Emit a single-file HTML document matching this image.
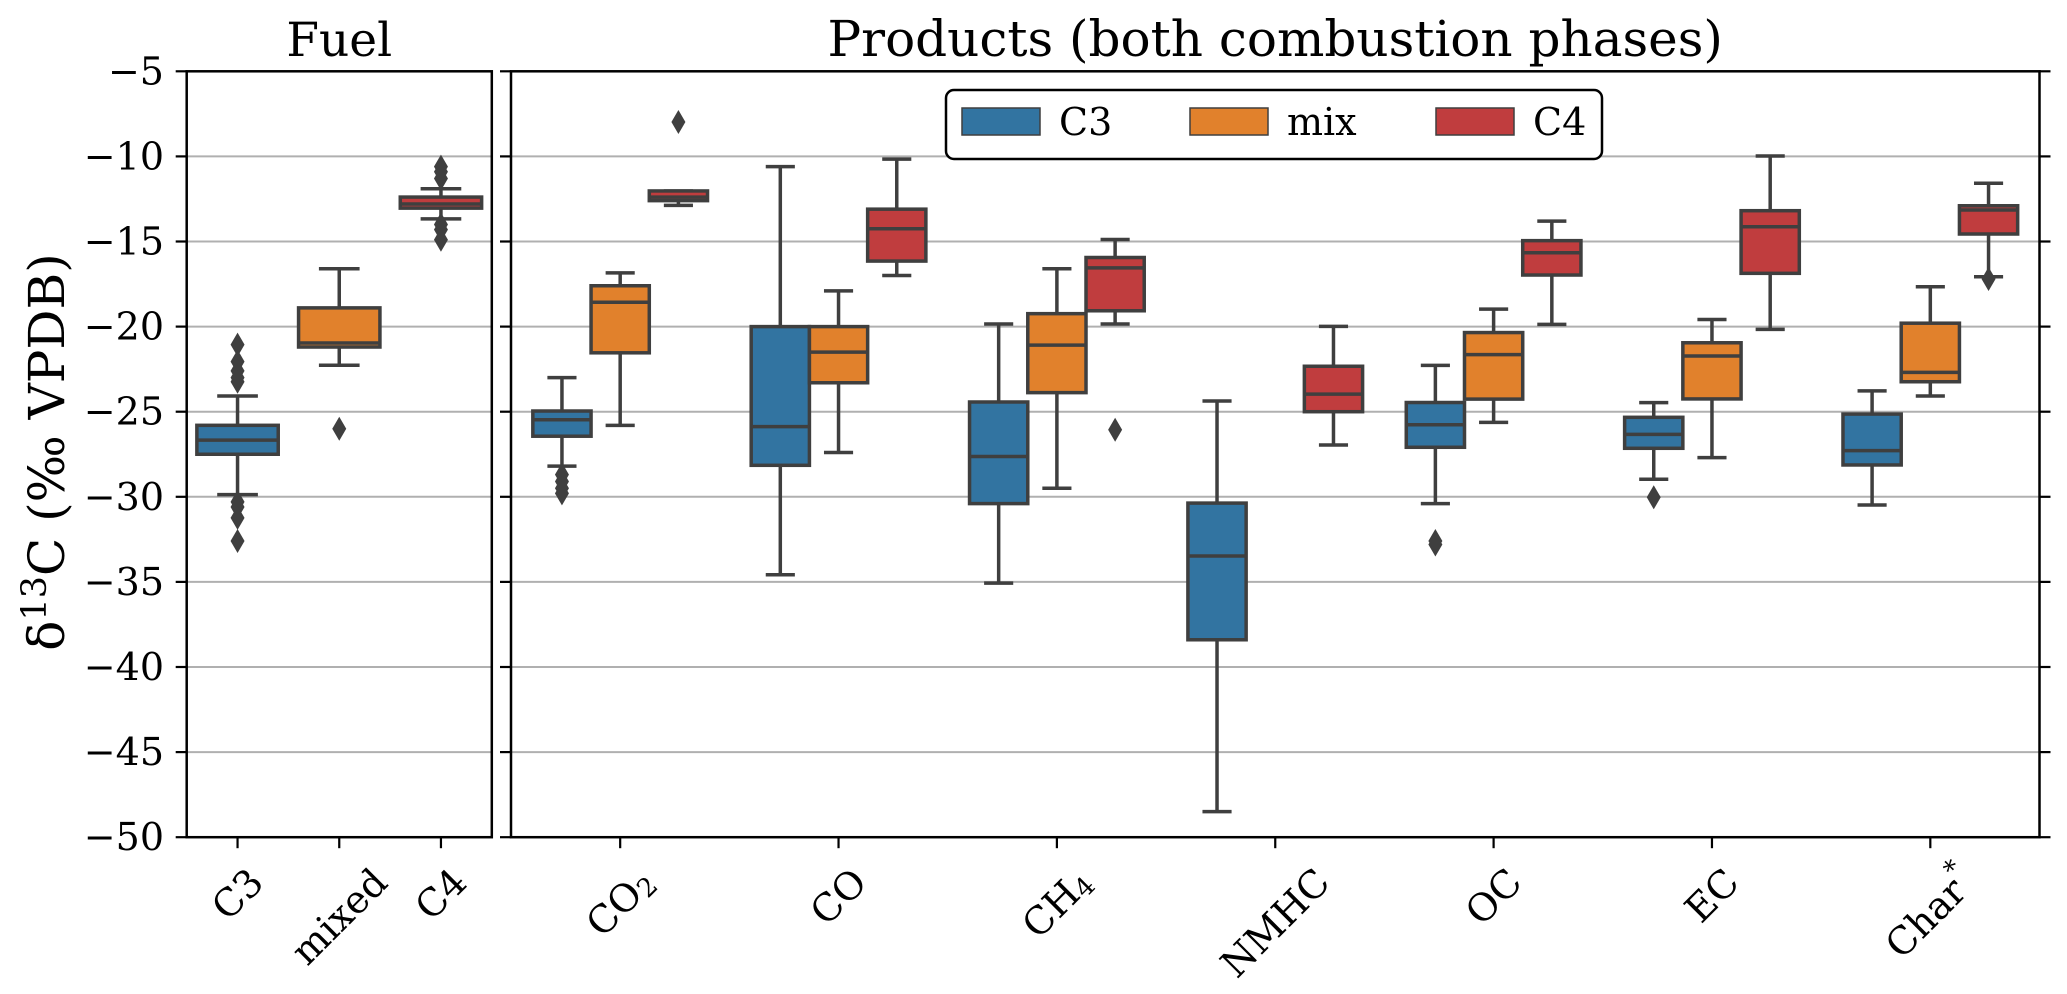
<!DOCTYPE html>
<html><head><meta charset="utf-8"><style>
html,body{margin:0;padding:0;background:#fff;}
svg{display:block;font-family:"DejaVu Serif","Liberation Serif",serif;}
</style></head><body>
<svg id="chart" width="2067" height="994" viewBox="0 0 2067 994" xmlns="http://www.w3.org/2000/svg">
<g id="grid"></g>
<g id="boxes"></g>
<g id="axes"></g>
</svg>
<script>
// ---- data ----
const yTicks = [-5,-10,-15,-20,-25,-30,-35,-40,-45,-50];
const fuelCats = ["C3","mixed","C4"];
// [whiskerLow, q1, median, q3, whiskerHigh]
const fuelStats = [
  [-29.87,-27.5,-26.67,-25.8,-24.08],
  [-22.27,-21.2,-20.96,-18.9,-16.6],
  [-13.67,-13.04,-12.8,-12.39,-11.9]
];
const fuelOutliers = [
  [-21.06,-22.06,-22.6,-23.0,-23.24,-30.3,-30.6,-31.24,-32.6],
  [-26.0],
  [-10.6,-10.9,-11.3,-14.0,-14.3,-14.9]
];
const prodCats = ["CO2","CO","CH4","NMHC","OC","EC","Char"];
const hues = ["C3","mix","C4"];
const c3Stats = [
  [-28.2,-26.44,-25.47,-24.96,-23.0],
  [-34.58,-28.15,-25.88,-20.0,-10.6],
  [-35.07,-30.4,-27.63,-24.43,-19.85],
  [-48.5,-38.4,-33.48,-30.37,-24.37],
  [-30.4,-27.09,-25.77,-24.46,-22.28],
  [-28.97,-27.15,-26.33,-25.33,-24.47],
  [-30.48,-28.13,-27.29,-25.14,-23.78]
];
const mixStats = [
  [-25.8,-21.54,-18.57,-17.6,-16.84],
  [-27.4,-23.3,-21.5,-20.0,-17.9],
  [-29.5,-23.88,-21.09,-19.24,-16.6],
  null,
  [-25.63,-24.26,-21.65,-20.35,-18.97],
  [-27.7,-24.25,-21.73,-20.95,-19.58],
  [-24.08,-23.24,-22.69,-19.8,-17.66]
];
const c4Stats = [
  [-12.88,-12.6,-12.39,-12.03,-12.03],
  [-17.0,-16.15,-14.25,-13.1,-10.16],
  [-19.85,-19.07,-16.55,-15.94,-14.88],
  [-26.96,-25.0,-23.97,-22.33,-19.99],
  [-19.87,-16.97,-15.66,-14.95,-13.8],
  [-20.16,-16.87,-14.13,-13.19,-9.98],
  [-17.07,-14.56,-13.15,-12.9,-11.58]
];
const c3Outliers = [[-28.7,-29.1,-29.5,-29.8],[],[],[],[-32.6,-32.8],[-30.03],[]];
const mixOutliers = [[],[],[],[],[],[],[]];
const c4Outliers = [[-7.98],[],[-26.06],[],[],[],[-17.2]];
const colors = ["#3274a1","#e1812c","#c03d3e"];
// ---- layout ----
const NS="http://www.w3.org/2000/svg";
const yTop=71.3, yPer=17.02;
function Y(v){return yTop+(-5-v)*yPer;}
const L={x0:186.7,x1:491.8}, R={x0:511,x1:2039.5};
const yBot=Y(-50);
const fuelStep=(L.x1-L.x0)/fuelCats.length, prodStep=(R.x1-R.x0)/prodCats.length;
function fuelX(i){return L.x0+fuelStep*(i+0.5);}
function prodX(i){return R.x0+prodStep*(i+0.5);}
const LC="#3f3f3f";
function el(tag,attrs,parent){const e=document.createElementNS(NS,tag);for(const k in attrs)e.setAttribute(k,attrs[k]);parent.appendChild(e);return e;}
const grid=document.getElementById('grid'), boxes=document.getElementById('boxes'), axes=document.getElementById('axes');
yTicks.forEach(t=>{
  if(t===-5||t===-50) return;
  [L,R].forEach(p=>{
    const g=el('line',{x1:p.x0,x2:p.x1,y1:Y(t),y2:Y(t),stroke:'#b0b0b0','stroke-width':2},grid);
    
    
  });
});
function drawBox(cx,w,s,color,outs,name){
  const g=el('g',{},boxes);
  
  
  const cap=w*0.5;
  el('line',{x1:cx,x2:cx,y1:Y(s[0]),y2:Y(s[1]),stroke:LC,'stroke-width':3.5},g);
  el('line',{x1:cx,x2:cx,y1:Y(s[3]),y2:Y(s[4]),stroke:LC,'stroke-width':3.5},g);
  el('line',{x1:cx-cap/2,x2:cx+cap/2,y1:Y(s[0]),y2:Y(s[0]),stroke:LC,'stroke-width':3.5},g);
  el('line',{x1:cx-cap/2,x2:cx+cap/2,y1:Y(s[4]),y2:Y(s[4]),stroke:LC,'stroke-width':3.5},g);
  el('rect',{x:cx-w/2,y:Y(s[3]),width:w,height:Math.max(Y(s[1])-Y(s[3]),1),fill:color,stroke:LC,'stroke-width':3.5},g);
  el('line',{x1:cx-w/2,x2:cx+w/2,y1:Y(s[2]),y2:Y(s[2]),stroke:LC,'stroke-width':3.5},g);
  outs.forEach(o=>{
    const y=Y(o);
    const d=el('polygon',{points:`${cx},${y-12} ${cx+7},${y} ${cx},${y+12} ${cx-7},${y}`,fill:LC},g);
    
    
  });
}
fuelCats.forEach((c,i)=>drawBox(fuelX(i),fuelStep*0.8,fuelStats[i],colors[i],fuelOutliers[i],'fuel-box-'+c));
const hueStats=[c3Stats,mixStats,c4Stats], hueOuts=[c3Outliers,mixOutliers,c4Outliers];
const bw=prodStep*0.8/3;
prodCats.forEach((c,i)=>{
  hues.forEach((h,j)=>{
    const s=hueStats[j][i]; if(!s) return;
    drawBox(prodX(i)+(j-1)*bw,bw,s,colors[j],hueOuts[j][i],'box-'+c.toLowerCase()+'-'+h.toLowerCase());
  });
});
[L,R].forEach((p,k)=>{
  const f=el('rect',{x:p.x0,y:yTop,width:p.x1-p.x0,height:yBot-yTop,fill:'none',stroke:'#000','stroke-width':2.5},axes);
  
  
});
yTicks.forEach(t=>{
  el('line',{x1:L.x0-11,x2:L.x0,y1:Y(t),y2:Y(t),stroke:'#000','stroke-width':2.2},axes);
  el('line',{x1:R.x0-11,x2:R.x0,y1:Y(t),y2:Y(t),stroke:'#000','stroke-width':2.2},axes);
  el('line',{x1:R.x1,x2:R.x1+11,y1:Y(t),y2:Y(t),stroke:'#000','stroke-width':2.2},axes);
  const tx=el('text',{x:164,y:Y(t)+13,'text-anchor':'end','font-size':38,fill:'#000'},axes);
  tx.textContent=String(t).replace('-','\u2212');
  
  
});
function xLabel(x,parts,name){
  el('line',{x1:x,x2:x,y1:yBot,y2:yBot+11,stroke:'#000','stroke-width':2.2},axes);
  const t=el('text',{'font-size':38,'text-anchor':'middle','dominant-baseline':'central',fill:'#000'},axes);
  
  
  parts.forEach(p=>{const ts=el('tspan',{},t);ts.textContent=p[0];
    if(p[1]==='sub'){ts.setAttribute('font-size',26);ts.setAttribute('dy',9);}
    if(p[1]==='sup'){ts.setAttribute('font-size',26);ts.setAttribute('dy',-15);}});
  const w=t.getBBox().width, h=38;
  const cy=862+(w+h)*0.7071/2;
  t.setAttribute('x',x);t.setAttribute('y',cy);
  t.setAttribute('transform',`rotate(-45 ${x} ${cy})`);
}
fuelCats.forEach((c,i)=>xLabel(fuelX(i),[[c]],'x-label-fuel-'+c));
const prodLabels=[[["CO"],["2","sub"]],[["CO"]],[["CH"],["4","sub"]],[["NMHC"]],[["OC"]],[["EC"]],[["Char"],["*","sup"]]];
prodCats.forEach((c,i)=>xLabel(prodX(i),prodLabels[i],'x-label-'+c.toLowerCase()));
let t=el('text',{x:(L.x0+L.x1)/2,y:56,'text-anchor':'middle','font-size':47},axes);t.textContent='Fuel';


t=el('text',{x:(R.x0+R.x1)/2,y:56,'text-anchor':'middle','font-size':50},axes);t.textContent='Products (both combustion phases)';


t=el('text',{x:0,y:0,'text-anchor':'middle','font-size':50,transform:`translate(64 452) rotate(-90)`},axes);


t.innerHTML='δ<tspan font-size="35" dy="-18">13</tspan><tspan dy="18">C (‰ VPDB)</tspan>';
const lg=el('g',{},axes);


el('rect',{x:946,y:90,width:656,height:69,rx:8,fill:'#fff',stroke:'#000','stroke-width':2.5},lg);
const legX=[962,1190,1436];
hues.forEach((h,j)=>{
  const e=el('g',{},lg);
  
  
  el('rect',{x:legX[j],y:108,width:78,height:27,fill:colors[j],stroke:LC,'stroke-width':1.5},e);
  const tt=el('text',{x:legX[j]+97,y:135,'font-size':38},e);tt.textContent=h;
});
</script>
</body></html>
